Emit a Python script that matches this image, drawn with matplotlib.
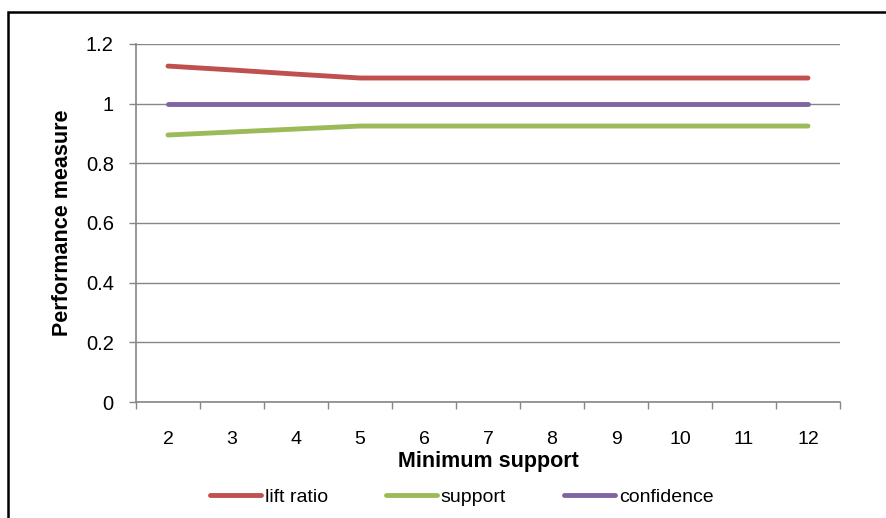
import matplotlib
matplotlib.use("Agg")
import matplotlib.pyplot as plt
from matplotlib.patches import Rectangle
import numpy as np

plt.rcParams["font.family"] = ["Liberation Sans", "DejaVu Sans"]

min_support = [2, 3, 4, 5, 6, 7, 8, 9, 10, 11, 12]
lift_ratio = [1.126, 1.113, 1.099, 1.086, 1.086, 1.086, 1.086, 1.086, 1.086, 1.086, 1.086]
support = [0.895, 0.905, 0.915, 0.925, 0.925, 0.925, 0.925, 0.925, 0.925, 0.925, 0.925]
confidence = [1.0] * 11

series = [("lift ratio", lift_ratio, "#C0504D"),
          ("support", support, "#9BBB59"),
          ("confidence", confidence, "#8064A2")]

AXIS_GREY = "#868686"
FS = 14

fig = plt.figure(figsize=(8.86, 5.18), dpi=100)
ax = fig.add_axes([136 / 886, 1 - 402 / 518, (840 - 136) / 886, (402 - 44) / 518])

x = np.arange(len(min_support))
for label, vals, color in series:
    ax.plot(x, vals, color=color, lw=3.5, solid_capstyle="round", label=label, zorder=3)

ax.set_xlim(-0.5, len(min_support) - 0.5)
ax.set_ylim(0, 1.2)
ax.set_yticks(np.arange(0, 1.21, 0.2))
ax.set_yticklabels(["0", "0.2", "0.4", "0.6", "0.8", "1", "1.2"])
ax.yaxis.grid(True, color=AXIS_GREY, lw=1)
ax.set_axisbelow(True)

# category axis: labels centred, tick marks between categories
ax.set_xticks(x)
ax.set_xticklabels([str(v) for v in min_support])
ax.set_xticks(np.arange(-0.5, len(min_support)), minor=True)
ax.tick_params(axis="x", which="major", length=0, pad=21, labelsize=FS)
ax.tick_params(axis="x", which="minor", length=5, width=1, color=AXIS_GREY, direction="out")
ax.tick_params(axis="y", length=5, width=1, color=AXIS_GREY, labelsize=FS + 0.5, pad=11)

for side in ["top", "right"]:
    ax.spines[side].set_visible(False)
for side in ["left", "bottom"]:
    ax.spines[side].set_color(AXIS_GREY)
    ax.spines[side].set_linewidth(1.2)

ax.set_xlabel("Minimum support", fontsize=FS + 1.5, fontweight="bold", labelpad=2)
ax.set_ylabel("Performance measure", fontsize=FS + 1.5, fontweight="bold", labelpad=9)

fig.legend(loc="center", bbox_to_anchor=(462 / 886, 1 - 497 / 518), ncol=3, frameon=False,
           fontsize=FS, handlelength=2.6, handletextpad=0.2, columnspacing=3.0,
           borderpad=0, borderaxespad=0)

# outer chart border
fig.patches.append(Rectangle((8 / 886, -0.1), 1.2, 1 - 12 / 518 + 0.1,
                             transform=fig.transFigure, fill=False,
                             edgecolor="black", lw=1.8, clip_on=False))

fig.savefig("out.png", dpi=100)
